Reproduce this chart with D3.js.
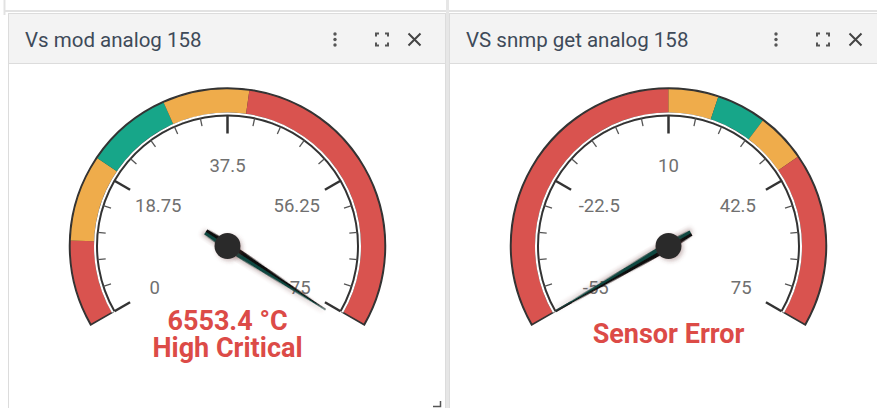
<!DOCTYPE html>
<html><head><meta charset="utf-8">
<script src="https://cdn.jsdelivr.net/npm/d3@7"></script>
<style>
html,body{margin:0;padding:0;background:#fff;}
svg{display:block;font-family:Roboto,"Noto Sans",sans-serif;}
</style></head>
<body>
<svg id="c" width="877" height="408"></svg>
<script>
// ---- data ----
const titles = ["Vs mod analog 158", "VS snmp get analog 158"];
const mins = [0, -55];
const maxs = [75, 75];
const tickLabels = [["0","18.75","37.5","56.25","75"], ["-55","-22.5","10","42.5","75"]];
const bandFrom = [[0,10,20,30,40], [-55,10,20,30,40]];
const bandTo   = [[10,20,30,40,75], [10,20,30,40,75]];
const bandKinds = ["critical","warning","normal","warning","critical"];
const values = [6553.4, null];
const valueLines = [["6553.4 °C", "High Critical"], ["Sensor Error"]];

// ---- style ----
const colors = {critical:"#d9534f", warning:"#efac4b", normal:"#17a689"};
const W = 877, H = 408;
const svg = d3.select("#c");

// container chrome
svg.append("rect").attr("x",0).attr("y",0).attr("width",W).attr("height",H).attr("fill","#fff");
svg.append("line").attr("x1",4.5).attr("x2",W).attr("y1",11).attr("y2",11).attr("stroke","#e2e2e2").attr("stroke-width",2);
svg.append("line").attr("x1",4.5).attr("x2",4.5).attr("y1",0).attr("y2",15).attr("stroke","#e2e2e2").attr("stroke-width",2);
svg.append("rect").attr("x",446).attr("y",0).attr("width",3).attr("height",H).attr("fill","#e6e6e6");

const panelX = [8.5, 449.5];
const panelW = 437;
const defs = svg.append("defs");
const f = defs.append("filter").attr("id","sh").attr("x","-50%").attr("y","-50%").attr("width","200%").attr("height","200%");
f.append("feDropShadow").attr("dx",2).attr("dy",2).attr("stdDeviation",2).attr("flood-color","#6b3b3b").attr("flood-opacity",0.35);

const overshoot = 3;
const needleLen = [117, 131];

titles.forEach((title, gi) => {
  const px = panelX[gi];
  const g = svg.append("g");
  // panel
  g.append("rect").attr("x",px).attr("y",13.5).attr("width",panelW).attr("height",H).attr("fill","#fff").attr("stroke","#dcdcdc");
  g.append("rect").attr("x",px).attr("y",13.5).attr("width",panelW).attr("height",50).attr("fill","#f3f3f3").attr("stroke","#dcdcdc");
  g.append("text").attr("x",px+16.5).attr("y",46.5).attr("font-size",20.5).attr("fill","#3e4a59").text(title);
  // icons
  const ix = px + 326.5;
  [-5.5,0,5.5].forEach(d => g.append("circle").attr("cx",ix).attr("cy",39.5+d).attr("r",1.7).attr("fill","#555"));
  const ex = px + 373.5, ey = 39.5, s = 6, c = 3;
  const corner = [[-1,-1],[1,-1],[1,1],[-1,1]];
  corner.forEach(([a,b]) => {
    g.append("path").attr("d",`M${ex+a*s},${ey+b*(s-c)} L${ex+a*s},${ey+b*s} L${ex+a*(s-c)},${ey+b*s}`)
      .attr("fill","none").attr("stroke","#555").attr("stroke-width",2);
  });
  const xx = px + 406, xy = 39.5, xs = 6;
  g.append("path").attr("d",`M${xx-xs},${xy-xs}L${xx+xs},${xy+xs}M${xx+xs},${xy-xs}L${xx-xs},${xy+xs}`)
    .attr("stroke","#444").attr("stroke-width",2);

  // gauge
  const cx = px + panelW/2 + 0.5, cy = 246;
  const scale = d3.scaleLinear().domain([mins[gi], maxs[gi]]).range([-120, 120]).clamp(true);
  const rad = d => d * Math.PI / 180;
  const gg = g.append("g").attr("transform",`translate(${cx},${cy})`);
  const rOut = 158, rIn = 133.5, rDial = 130.5;
  // band outline
  gg.append("path").attr("d", d3.arc()({innerRadius:rIn-1, outerRadius:rOut, startAngle:rad(-120), endAngle:rad(120)}))
    .attr("fill","#333").attr("stroke","#333").attr("stroke-width",1.5);
  bandFrom[gi].forEach((b, i) => {
    gg.append("path").attr("d", d3.arc()({innerRadius:rIn, outerRadius:rOut-1.2,
        startAngle:rad(scale(b)) + (i===0?0.006:0), endAngle:rad(scale(bandTo[gi][i])) - (i===bandFrom[gi].length-1?0.006:0)}))
      .attr("fill", colors[bandKinds[i]]);
  });
  // white gap
  gg.append("path").attr("d", d3.arc()({innerRadius:rDial+0.8, outerRadius:rIn, startAngle:rad(-120), endAngle:rad(120)}))
    .attr("fill","#fff");
  // dial line
  gg.append("path").attr("d", d3.arc()({innerRadius:rDial-1, outerRadius:rDial+1, startAngle:rad(-120), endAngle:rad(120)}))
    .attr("fill","#333");
  // ticks
  const min = mins[gi], max = maxs[gi];
  const majorStep = (max-min)/4, minorStep = majorStep/5;
  const minorVals = d3.range(0, 21).map(i => min + i*minorStep);
  minorVals.forEach((v, i) => {
    const major = i % 5 === 0;
    const a = rad(scale(v));
    const r1 = rDial, r2 = major ? rDial - 18 : rDial - 8;
    gg.append("line")
      .attr("x1", r1*Math.sin(a)).attr("y1", -r1*Math.cos(a))
      .attr("x2", r2*Math.sin(a)).attr("y2", -r2*Math.cos(a))
      .attr("stroke", major ? "#333" : "#555").attr("stroke-width", major ? 2.5 : 1.3);
  });
  tickLabels[gi].forEach((lab, i) => {
    const a = rad(scale(min + i*majorStep));
    const r = Math.abs(scale(min + i*majorStep)) > 90 ? 84 : 80;
    gg.append("text").attr("x", r*Math.sin(a)).attr("y", -r*Math.cos(a))
      .attr("text-anchor","middle").attr("dominant-baseline","central")
      .attr("font-size",18.5).attr("fill","#707070").text(lab);
  });
  // value text
  const lines = valueLines[gi];
  lines.forEach((t, i) => {
    gg.append("text").attr("x",0).attr("y", 97 + (i - (lines.length-1)/2)*27)
      .attr("text-anchor","middle").attr("font-size",27).attr("font-weight","bold")
      .attr("fill","#dc4b47").text(t);
  });
  // needle
  const v = values[gi];
  let ang = v === null ? -120 : scale(v);
  if (v !== null && v > max) ang += overshoot;
  if (v !== null && v < min) ang -= overshoot;
  const L = needleLen[gi];
  const nd = gg.append("g").attr("transform",`rotate(${ang})`).attr("filter","url(#sh)");
  nd.append("path").attr("d",`M0,26 L-3,26 L-4.5,0 L-0.5,${-L} L0,${-L} Z`).attr("fill","#111");
  nd.append("path").attr("d",`M0,26 L3,26 L4.5,0 L0.5,${-L} L0,${-L} Z`).attr("fill","#0f4640");
  gg.append("circle").attr("r",13).attr("fill","#2b2b2b").attr("filter","url(#sh)");
});
// resize handle
svg.append("path").attr("d","M433,406.5 L440.5,406.5 L440.5,401").attr("fill","none").attr("stroke","#555").attr("stroke-width",1.5);
</script>
</body></html>
